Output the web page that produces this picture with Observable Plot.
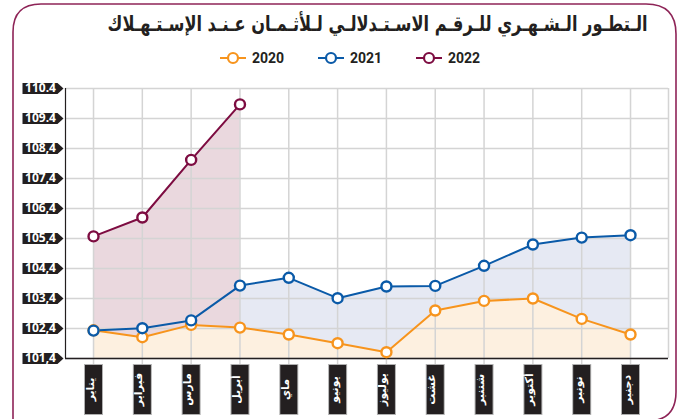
<!DOCTYPE html>
<html>
<head>
<meta charset="utf-8">
<script src="https://cdn.jsdelivr.net/npm/d3@7"></script>
<script src="https://cdn.jsdelivr.net/npm/@observablehq/plot@0.6"></script>
<style>
  html, body { margin: 0; padding: 0; background: #fff; }
  #wrap { position: relative; width: 683px; height: 419px; overflow: hidden; font-family: "DejaVu Sans", sans-serif; }
  #frame { position: absolute; left: 0; top: 0; }
  #title { position: absolute; top: 12px; right: 35px; font-size: 21px; font-weight: bold; color: #231f20; direction: rtl; white-space: nowrap; font-family: "DejaVu Sans", sans-serif; line-height: 1.2; transform-origin: right center; }
  #legend { position: absolute; top: 48px; left: 0; width: 683px; height: 20px; }
  #chart { position: absolute; left: 0; top: 0; }
</style>
</head>
<body>
<div id="wrap">
  <svg id="frame" width="683" height="419">
    <path d="M13,440 L13,32 Q13,4 41,4 L646,4 Q676,4 676,34 L676,392 Q676,421 647,421 L40,421" fill="none" stroke="#8e2457" stroke-width="1.6"/>
  </svg>
  <div id="chart"></div>
  <div id="title">الـتطـور الـشـهـري للـرقـم الاسـتـدلالـي لـلأثـمـان عـنـد الإسـتـهـلاك</div>
  <svg id="legend"></svg>
</div>
<script>
const months = ["يناير","فبراير","مارس","أبريل","ماي","يونيو","يوليوز","غشت","شتنبر","أكتوبر","نونبر","دجنبر"];
const series = ["2020","2021","2022"];
const v2020 = [102.34, 102.11, 102.52, 102.43, 102.20, 101.91, 101.61, 103.00, 103.32, 103.40, 102.72, 102.20];
const v2021 = [102.33, 102.41, 102.67, 103.83, 104.09, 103.41, 103.80, 103.82, 104.49, 105.20, 105.43, 105.51];
const v2022 = [105.47, 106.10, 108.02, 109.87];
const yTicks = [101.4, 102.4, 103.4, 104.4, 105.4, 106.4, 107.4, 108.4, 109.4, 110.4];
const yTickLabels = ["101,4","102,4","103,4","104,4","105,4","106,4","107,4","108,4","109.4","110.4"];
const colors = {"2020": "#f7941d", "2021": "#0a5aa8", "2022": "#7d0c41"};
const fills = {"2020": "#fdf0e0", "2021": "#e6e9f3", "2022": "#ead8de"};

const rows = s => (s === "2020" ? v2020 : s === "2021" ? v2021 : v2022).map((v, i) => ({i, month: months[i], v, s}));
const d20 = rows("2020"), d21 = rows("2021"), d22 = rows("2022");
const monthRows = months.map((m, i) => ({i, m}));
const tickRows = yTicks.map((t, k) => ({t, label: yTickLabels[k]}));
const yMin = yTicks[0];

const tagSymbol = {draw(ctx) { ctx.moveTo(-43, -5.5); ctx.lineTo(-8, -5.5); ctx.lineTo(-2, 0); ctx.lineTo(-8, 5.5); ctx.lineTo(-43, 5.5); ctx.closePath(); }};
const boxOuter = {draw(ctx) { ctx.rect(-9.5, 5.5, 19, 51); }};
const boxInner = {draw(ctx) { ctx.rect(-8.5, 6.5, 17, 49); }};

const grid = "#d4d4d4";
const chart = Plot.plot({
  width: 683, height: 419,
  marginLeft: 65, marginRight: 15, marginTop: 88, marginBottom: 61,
  x: {type: "linear", domain: [-0.574, 11.778], axis: null},
  y: {domain: [101.4, 110.4], axis: null},
  style: {background: "transparent", overflow: "visible"},
  marks: [
    Plot.areaY(d21, {x: "i", y1: () => yMin, y2: "v", fill: fills["2021"]}),
    Plot.areaY(d22, {x: "i", y1: () => yMin, y2: "v", fill: fills["2022"]}),
    Plot.areaY(d20, {x: "i", y1: () => yMin, y2: "v", fill: fills["2020"]}),
    Plot.ruleY(tickRows, {y: "t", stroke: grid, strokeWidth: 1.5}),
    Plot.ruleX(monthRows, {x: "i", stroke: grid, strokeWidth: 1.5, insetBottom: -7}),
    Plot.ruleX([11.778], {stroke: grid, strokeWidth: 1.5}),
    Plot.ruleX([-0.574], {stroke: "#231f20", strokeWidth: 1.2}),
    Plot.ruleY([yMin], {stroke: "#231f20", strokeWidth: 1.5}),
    Plot.lineY(d20, {x: "i", y: "v", stroke: colors["2020"], strokeWidth: 2}),
    Plot.lineY(d21, {x: "i", y: "v", stroke: colors["2021"], strokeWidth: 2}),
    Plot.lineY(d22, {x: "i", y: "v", stroke: colors["2022"], strokeWidth: 2}),
    Plot.dot(d20, {x: "i", y: "v", r: 5, fill: "white", stroke: colors["2020"], strokeWidth: 2.4}),
    Plot.dot(d21, {x: "i", y: "v", r: 5, fill: "white", stroke: colors["2021"], strokeWidth: 2.4}),
    Plot.dot(d22, {x: "i", y: "v", r: 5, fill: "white", stroke: colors["2022"], strokeWidth: 2.4}),
    Plot.dot(tickRows, {y: "t", frameAnchor: "left", symbol: tagSymbol, r: 5, fill: "#231f20", stroke: null}),
    Plot.text(tickRows, {y: "t", frameAnchor: "left", textAnchor: "middle", dx: -25, text: "label", fill: "white", fontWeight: "bold", fontSize: 12, fontFamily: "'Open Sans', 'DejaVu Sans', sans-serif"}),
    Plot.dot(monthRows, {x: "i", frameAnchor: "bottom", symbol: boxOuter, r: 5, fill: "#b0b0b0", stroke: null}),
    Plot.dot(monthRows, {x: "i", frameAnchor: "bottom", symbol: boxInner, r: 5, fill: "#231f20", stroke: null}),
    Plot.text(monthRows, {x: "i", frameAnchor: "bottom", dy: 31, text: "m", rotate: -90, fill: "white", fontSize: 11, fontWeight: "bold", fontFamily: "'DejaVu Sans', sans-serif"})
  ]
});
document.getElementById("chart").appendChild(chart);

// fit the title horizontally to the reference width (~540px)
const title = document.getElementById("title");
const w = title.getBoundingClientRect().width;
if (w > 0) title.style.transform = `scaleX(${(540 / w).toFixed(4)})`;

// legend
const lg = d3.select("#legend");
const lx = {"2020": 220, "2021": 318, "2022": 416};
series.forEach(s => {
  const g = lg.append("g").attr("transform", `translate(${lx[s]},10)`);
  g.append("line").attr("x1", 0).attr("x2", 26).attr("y1", 0).attr("y2", 0).attr("stroke", colors[s]).attr("stroke-width", 2);
  g.append("circle").attr("cx", 13).attr("cy", 0).attr("r", 5).attr("fill", "white").attr("stroke", colors[s]).attr("stroke-width", 2.2);
  g.append("text").attr("x", 32).attr("y", 5).text(s).attr("font-family", "'Liberation Sans Narrow', 'Roboto', sans-serif").attr("font-weight", "bold").attr("font-size", 14).attr("fill", "#231f20");
});
</script>
</body>
</html>
